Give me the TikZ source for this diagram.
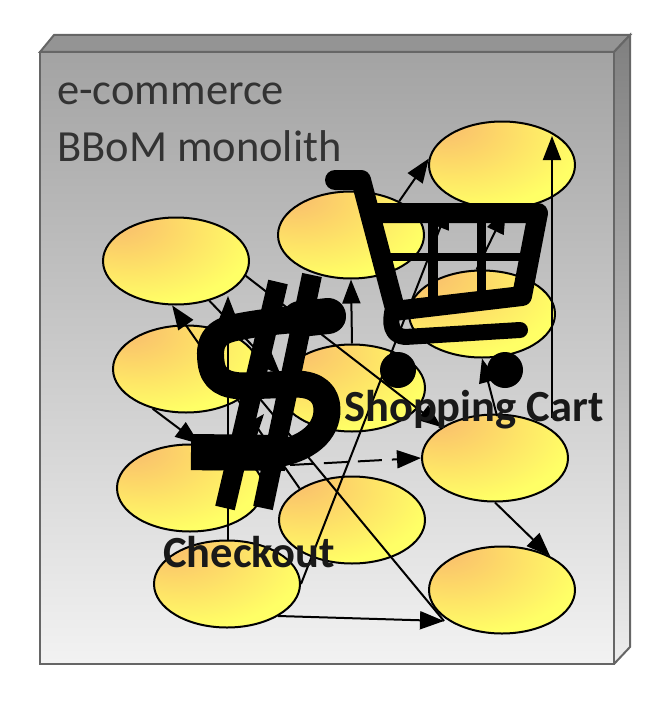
\documentclass[tikz,border=0pt]{standalone}
\usepackage{fontspec}
\setmainfont{Carlito}
\usetikzlibrary{arrows.meta,shapes.geometric}
\definecolor{eggorange}{HTML}{F8B96E}
\definecolor{eggmid}{HTML}{FDD868}
\definecolor{eggyellow}{HTML}{FFFF66}
\pgfdeclareradialshading{eggshade}{\pgfpoint{-22bp}{25bp}}{
	color(0bp)=(eggorange);
	color(18bp)=(eggmid);
	color(40bp)=(eggyellow);
	color(100bp)=(eggyellow)
}
\tikzset{
	egg/.style={ellipse,draw=black,line width=2pt,shading=eggshade,minimum width=146pt,minimum height=87pt,inner sep=0pt},
	flow/.style={-{Triangle[length=24pt,width=18pt]},line width=2pt,black},
	plainflow/.style={line width=2pt,black},
	facet/.style={draw=black!60,line width=2pt},
	cartline/.style={line width=#1,black,line cap=round,line join=round},
	titletext/.style={font=\fontsize{44.5}{44.5}\selectfont,text=black!80,inner sep=0pt,anchor=west},
	label/.style={font=\bfseries\fontsize{44.5}{44.5}\selectfont,text=black!90,inner sep=0pt,anchor=west}
}
\newcommand{\egg}[3]{
	\node [egg] (#1) at (#2,#3) {}
}
\newcommand{\flow}[2]{
	\draw [flow] (#1) -- (#2)
}

\begin{document}
\begin{tikzpicture}[x=1pt,y=-1pt]
	\useasboundingbox (0,0) rectangle (664,701);

	% The monolith box
	\filldraw [facet,fill=black!42] (40,52) -- (54,35) -- (630,35) -- (614,52) -- cycle;
	\shade [top color=black!50,bottom color=black!7] (614,52) -- (630,35) -- (630,647) -- (614,664) -- cycle;
	\draw [facet] (614,52) -- (630,35) -- (630,647) -- (614,664);
	\draw [facet,top color=black!36,bottom color=black!5] (40,52) rectangle (614,664);

	\node [titletext] (title1) at (57,94) {e-commerce};
	\node [titletext] (title2) at (57,146) {BBoM monolith};

	% Services
	\egg {svca}{176}{261};
	\egg {svcb}{351}{235};
	\egg {svcc}{502}{165};
	\egg {svcd}{482}{314};
	\egg {svce}{186}{369};
	\egg {svcf}{352}{388};
	\egg {svcg}{495}{458};
	\egg {svch}{190}{488};
	\egg {svci}{352}{520};
	\egg {svcj}{227}{584};
	\egg {svck}{502}{590};

	% Free ends that stop inside another ellipse
	\coordinate (ctip) at (552,136);
	\coordinate (gfoot) at (552,418);
	\coordinate (gtop) at (497,416);
	\coordinate (ftip) at (264,414);
	\coordinate (ktip) at (444,621);
	\coordinate (jright) at (278,616);
	\coordinate (atip) at (228,296);
	\coordinate (jtop) at (228,541);
	\coordinate (cfoot) at (449,205);
	\coordinate (hstart) at (290,465);

	% Calls
	\flow {svci.north west}{svca.-95};
	\flow {jtop}{atip};
	\flow {svcf.90}{svcb.-90};
	\flow {svcb.35}{svcc.175};
	\flow {svcj.east}{cfoot};
	\flow {svcd.97}{svcc.-85};
	\flow {gfoot}{ctip};
	\flow {gtop}{svcd.-90};
	\flow {svca.-12}{svcg.150};
	\flow {svca.-50}{svcf.170};
	\flow {svce.-130}{svch.78};
	\flow {svch.40}{ftip};
	\flow {svcg.-90}{svck.35};
	\flow {jright}{ktip};
	\draw [flow,dash pattern=on 24pt off 10pt] (hstart) -- (svcg.west);
	\draw [plainflow] (svce.-17) -- (ktip);

	% Cart
	\draw [cartline=20pt] (335,180) -- (361,180) -- (394,305);
	\draw [cartline=16pt] (394,305) .. controls (388,325) and (392,336) .. (405,337) -- (520,330);
	\draw [cartline=20pt,line cap=butt] (372,213) -- (538,213) -- (522,296) -- (394,311);
	\draw [cartline=8pt,line cap=butt] (385,257) -- (530,257);
	\draw [cartline=10pt,line cap=butt] (433,213) -- (433,305);
	\draw [cartline=9pt,line cap=butt] (481,213) -- (481,300);
	\fill (398,370) circle (18pt);
	\fill (505,370) circle (18pt);

	% Dollar
	\draw [cartline=27pt] (332,318) .. controls (300,318) and (260,322) .. (233,328)
		.. controls (212,333) and (209,345) .. (211,362)
		.. controls (213,380) and (225,386) .. (245,386) -- (295,384)
		.. controls (318,384) and (327,395) .. (327,410)
		.. controls (327,430) and (310,450) .. (270,455) -- (205,457);
	\draw [line width=36pt,black] (191,452) -- (285,453);
	\draw [line width=36pt,black,line cap=round] (300,319) -- (328,316);
	\draw [line width=20pt,black] (278,282) -- (225,508);
	\draw [line width=20pt,black] (312,275) -- (263,508);

	\node [label] (cartlabel) at (344,410) {Shopping Cart};
	\node [label] (paylabel) at (163,552) {Checkout};
\end{tikzpicture}
\end{document}
